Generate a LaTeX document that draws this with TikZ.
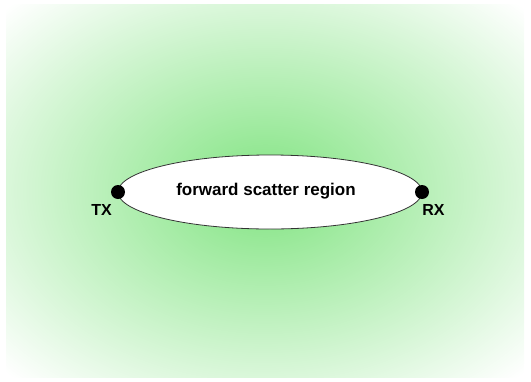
\documentclass[tikz,border=0pt]{standalone}
\usepackage{fontspec}
\setmainfont{Liberation Sans}
\usetikzlibrary{positioning}
\definecolor{glowgreen}{RGB}{140,230,140}
\pgfdeclareradialshading{fsglow}{\pgfpoint{0bp}{0bp}}{color(0bp)=(glowgreen); color(3bp)=(glowgreen); color(25bp)=(glowgreen!32!white); color(35bp)=(white); color(50bp)=(white)}
\pgfdeclarelayer{glow}
\pgfdeclarelayer{lens}
\pgfsetlayers{glow,lens,main}
\tikzset{
  station/.style={circle, fill=black, inner sep=0pt, minimum size=14pt},
  stationlabel/.style={font=\fontsize{16}{18}\selectfont\bfseries, inner sep=0pt},
  regionlabel/.style={font=\fontsize{17}{20}\selectfont\bfseries, inner sep=0pt}
}
\begin{document}
\begin{tikzpicture}[x=1pt, y=-1pt]
  \useasboundingbox (0,0) rectangle (531,381);

  \node[station] (tx) at (118,192) {};
  \node[station] (rx) at (422,192) {};
  \node[stationlabel, below left=7pt and 1pt of tx] (txlabel) {TX};
  \node[stationlabel, below right=7pt and -5pt of rx] (rxlabel) {RX};
  \node[regionlabel] (region) at (266,191) {forward scatter region};

  \begin{pgfonlayer}{glow}
    \shade[shading=fsglow] (6,4) rectangle (524,377);
  \end{pgfonlayer}
  \begin{pgfonlayer}{lens}
    \draw[fill=white, draw=black!80, line width=0.8pt]
      (tx.center) arc[start angle=180, end angle=-180, x radius=152, y radius=37];
  \end{pgfonlayer}
\end{tikzpicture}
\end{document}
